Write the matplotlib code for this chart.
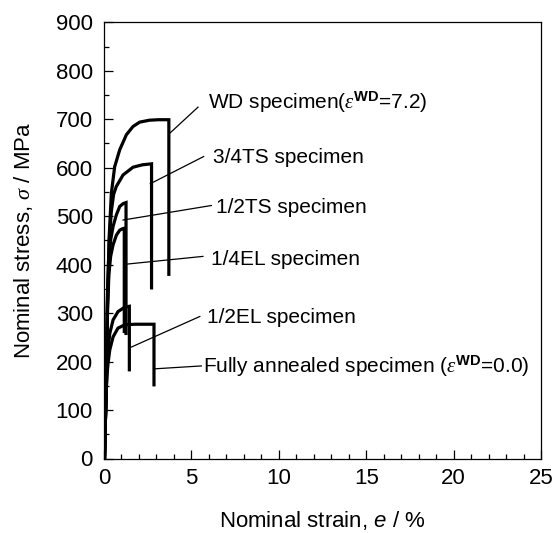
import matplotlib
matplotlib.use('Agg')
import matplotlib.pyplot as plt
from matplotlib.ticker import MultipleLocator

plt.rcParams['font.family'] = ['Liberation Sans', 'DejaVu Sans']
plt.rcParams['mathtext.fontset'] = 'custom'
plt.rcParams['mathtext.rm'] = 'Liberation Sans'
plt.rcParams['mathtext.it'] = 'Liberation Serif:italic'
plt.rcParams['mathtext.sf'] = 'Liberation Sans:italic'
plt.rcParams['mathtext.bf'] = 'Liberation Sans:bold'

# stress-strain curves (strain %, stress MPa)
wd_strain = [0.03, 0.08, 0.13, 0.2, 0.3, 0.42, 0.61, 0.9, 1.28, 1.66, 2.04, 2.6, 3.1, 3.71, 3.71]
wd_stress = [0, 80, 160, 330, 460, 547, 602, 637, 668, 685, 694, 698, 699, 699, 380]

ts34_strain = [0.03, 0.08, 0.13, 0.2, 0.3, 0.42, 0.55, 0.7, 1.09, 1.66, 2.2, 2.72, 2.72]
ts34_stress = [0, 80, 160, 340, 450, 510, 545, 561, 585, 601, 606, 608, 352]

ts12_strain = [0.03, 0.08, 0.13, 0.2, 0.28, 0.38, 0.52, 0.71, 0.9, 1.1, 1.26, 1.26]
ts12_stress = [0, 80, 155, 320, 400, 451, 479, 503, 520, 526, 528, 258]

el14_strain = [0.03, 0.08, 0.13, 0.2, 0.28, 0.38, 0.52, 0.71, 0.9, 1.05, 1.16, 1.16]
el14_stress = [0, 80, 150, 300, 380, 417, 441, 461, 471, 474, 475, 262]

el12_strain = [0.03, 0.08, 0.13, 0.18, 0.23, 0.33, 0.52, 0.8, 1.09, 1.3, 1.45, 1.45]
el12_stress = [0, 78, 145, 190, 224, 258, 286, 303, 310, 313, 314, 183]

fa_strain = [0.03, 0.08, 0.13, 0.18, 0.23, 0.33, 0.52, 0.8, 1.2, 1.8, 2.4, 2.86, 2.86]
fa_stress = [0, 78, 141, 175, 196, 224, 251, 269, 276, 277, 277, 277, 152]

curves = [(wd_strain, wd_stress), (ts34_strain, ts34_stress), (ts12_strain, ts12_stress),
          (el14_strain, el14_stress), (el12_strain, el12_stress), (fa_strain, fa_stress)]

labels = ['WD specimen($\\varepsilon^{\\mathbf{WD}}$=7.2)',
          '3/4TS specimen',
          '1/2TS specimen',
          '1/4EL specimen',
          '1/2EL specimen',
          'Fully annealed specimen ($\\varepsilon^{\\mathbf{WD}}$=0.0)']
# leader lines: start (x, y) -> end (x, y); text anchor (x, baseline y)
leader_x0 = [3.76, 2.65, 1.09, 1.28, 1.57, 2.89]
leader_y0 = [671, 567, 492, 401, 230, 185]
leader_x1 = [5.38, 5.70, 6.14, 5.66, 5.48, 5.57]
leader_y1 = [725, 623, 522, 417, 293, 191]
text_x = [5.95, 6.24, 6.43, 6.14, 5.89, 5.67]
text_y = [721, 609, 506, 399, 279, 176]

fig = plt.figure(figsize=(5.57, 5.33), dpi=100)
ax = fig.add_axes([104 / 557, 1 - 458.5 / 533, 437 / 557, 436.2 / 533])

for xs, ys in curves:
    ax.plot(xs, ys, color='black', lw=2.3, solid_joinstyle='miter')

for i in range(len(labels)):
    ax.plot([leader_x0[i], leader_x1[i]], [leader_y0[i], leader_y1[i]], color='black', lw=0.9)
    ax.text(text_x[i], text_y[i], labels[i], fontsize=15, ha='left', va='baseline')

ax.set_xlim(0, 25)
ax.set_ylim(0, 900)
ax.xaxis.set_major_locator(MultipleLocator(5))
ax.xaxis.set_minor_locator(MultipleLocator(1))
ax.yaxis.set_major_locator(MultipleLocator(100))
ax.yaxis.set_minor_locator(MultipleLocator(50))
ax.tick_params(which='both', direction='in', labelsize=16, width=0.9)
ax.tick_params(which='major', length=6.5)
ax.tick_params(which='minor', length=3.5)
ax.tick_params(axis='y', pad=8)
ax.tick_params(axis='x', pad=7)
for sp in ax.spines.values():
    sp.set_linewidth(0.9)

ax.set_xlabel('Nominal strain, $\\mathsf{e}$ / %', fontsize=16, labelpad=14)
ax.set_ylabel('Nominal stress, $\\sigma$ / MPa', fontsize=16, labelpad=15)

plt.savefig('out.png', dpi=100)
